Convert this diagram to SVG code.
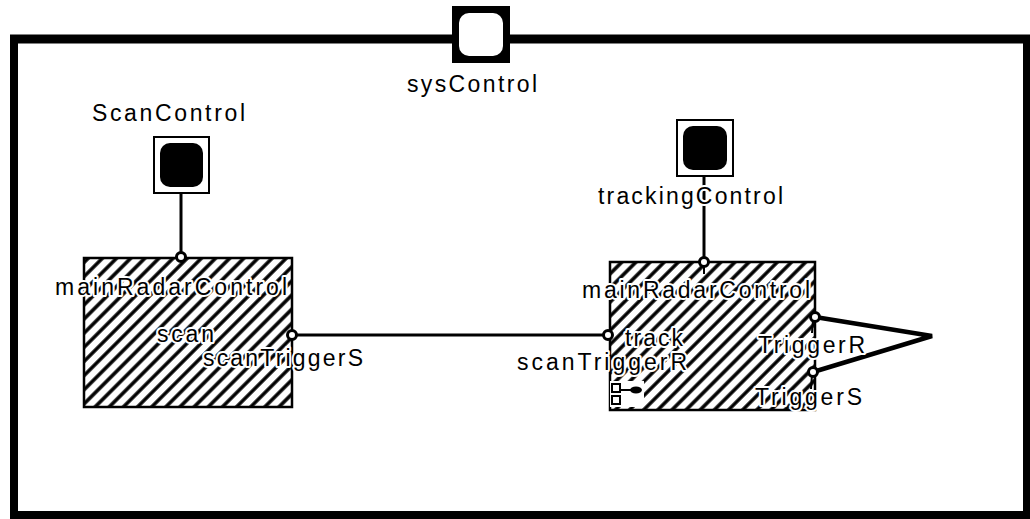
<svg xmlns="http://www.w3.org/2000/svg" width="1030" height="519" viewBox="0 0 1030 519">
<style>
text{font-family:"Liberation Sans",Arial,sans-serif;font-size:23px;fill:#000}
.halo{paint-order:stroke;stroke:#fff;stroke-width:4px;stroke-linejoin:round}
.box{fill:url(#hatch);stroke:#000;stroke-width:2.5}
.port{fill:#fff;stroke:#000;stroke-width:3}
.wire{fill:none;stroke:#000;stroke-width:3}
.thick{fill:none;stroke:#000;stroke-width:4.5;stroke-linejoin:miter}
.tick{stroke:#000;stroke-width:2}
</style>
<defs>
<pattern id="hatch" patternUnits="userSpaceOnUse" width="10" height="10" patternTransform="rotate(45)">
<rect width="10" height="10" fill="#fff"/>
<line x1="5" y1="0" x2="5" y2="10" stroke="#000" stroke-width="3.5"/>
</pattern>
</defs>
<rect width="1030" height="519" fill="#fff"/>
<g id="frame">
<rect x="14" y="39" width="1013" height="476" fill="none" stroke="#000" stroke-width="8"/>
<line x1="10" y1="39" x2="1031" y2="39" stroke="#000" stroke-width="9"/>
</g>
<g id="sysControl">
<rect x="452" y="6" width="58" height="57" fill="#000"/>
<rect x="459" y="13" width="44" height="43" rx="10" fill="#fff"/>
<text x="407" y="92" textLength="130" lengthAdjust="spacing">sysControl</text>
</g>
<g id="ScanControl">
<rect x="154" y="137" width="55" height="56" fill="#fff" stroke="#000" stroke-width="2"/>
<rect x="160" y="143" width="43" height="44" rx="10" fill="#000"/>
<text x="92" y="121" textLength="153" lengthAdjust="spacing">ScanControl</text>
</g>
<g id="trackingControl">
<rect x="677" y="120" width="56" height="56" fill="#fff" stroke="#000" stroke-width="2"/>
<rect x="683" y="126" width="44" height="44" rx="10" fill="#000"/>
</g>
<g id="connectors">
<line class="wire" x1="181" y1="193" x2="181" y2="257"/>
<line class="wire" x1="704" y1="176" x2="704" y2="262"/>
<line class="wire" x1="292" y1="335" x2="608" y2="335"/>
<polyline class="thick" points="815,317 932,336 813,372"/>
</g>
<g id="mainRadarControl-scan">
<rect class="box" x="84" y="258" width="208" height="149"/>
<circle class="port" cx="181" cy="257" r="4.5"/>
<circle class="port" cx="292" cy="335" r="4.5"/>
<text class="halo" x="55" y="295" textLength="232" lengthAdjust="spacing">mainRadarControl</text>
<text class="halo" x="157" y="342" textLength="57" lengthAdjust="spacing">scan</text>
<text class="halo" x="203" y="366" textLength="160" lengthAdjust="spacing">scanTriggerS</text>
</g>
<g id="mainRadarControl-track">
<rect class="box" x="610" y="262" width="205" height="148"/>
<line class="tick" x1="704" y1="264" x2="704" y2="274"/>
<line class="tick" x1="610" y1="337" x2="610" y2="347"/>
<line class="tick" x1="813" y1="320" x2="812" y2="333"/>
<line class="tick" x1="812" y1="375" x2="811" y2="389"/>
<circle class="port" cx="704" cy="262" r="4.5"/>
<circle class="port" cx="608" cy="335" r="4.5"/>
<circle class="port" cx="815" cy="317" r="4.5"/>
<circle class="port" cx="813" cy="372" r="4.5"/>
<text class="halo" x="582" y="298" textLength="228" lengthAdjust="spacing">mainRadarControl</text>
<text class="halo" x="625" y="346" textLength="58" lengthAdjust="spacing">track</text>
<text class="halo" x="517" y="370" textLength="170" lengthAdjust="spacing">scanTriggerR</text>
<text class="halo" x="758" y="353" textLength="107" lengthAdjust="spacing">TriggerR</text>
<text class="halo" x="755" y="405" textLength="107" lengthAdjust="spacing">TriggerS</text>
<g id="decomp-icon">
<rect x="610" y="381" width="34" height="26" fill="#fff"/>
<rect x="612" y="384" width="8" height="8" fill="#fff" stroke="#000" stroke-width="2"/>
<rect x="612" y="396" width="8" height="8" fill="#fff" stroke="#000" stroke-width="2"/>
<line x1="620" y1="390" x2="631" y2="390" stroke="#000" stroke-width="2"/>
<ellipse cx="636" cy="390" rx="6" ry="3.5" fill="#000"/>
</g>
</g>
<text class="halo" x="598" y="204" textLength="185" lengthAdjust="spacing">trackingControl</text>
</svg>
